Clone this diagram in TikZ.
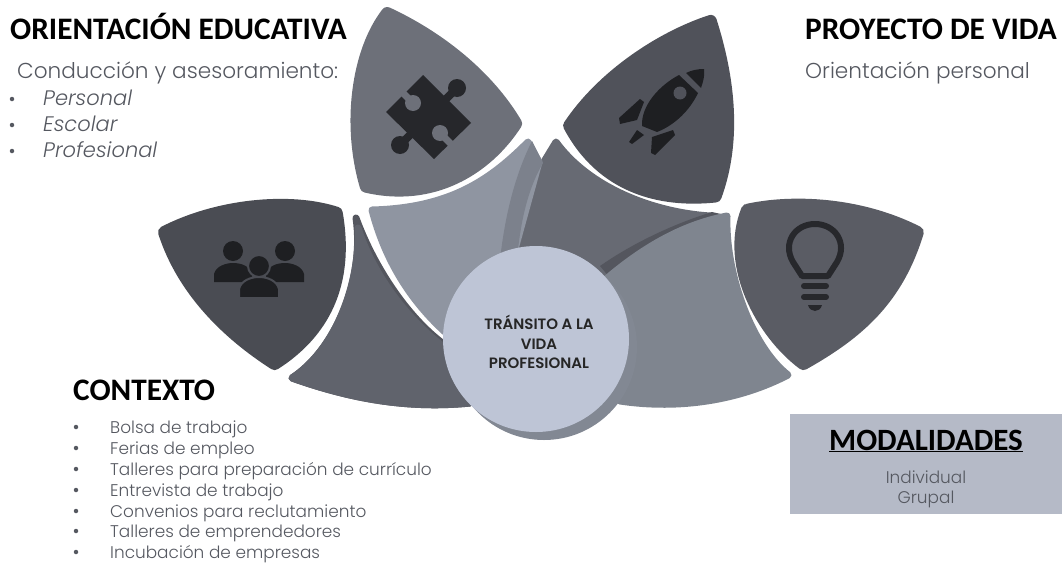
\documentclass[tikz,border=0pt]{standalone}
\usepackage{fontspec}
\setmainfont{Carlito}
\newfontfamily\gothicfont{Poppins Light}[ItalicFont={Poppins Light Italic},BoldFont={Poppins SemiBold}]
\usepackage{xcolor}
\definecolor{puzzlegray}{HTML}{6D7079}
\definecolor{rocketgray}{HTML}{50525A}
\definecolor{peoplegray}{HTML}{4A4C53}
\definecolor{bulbgray}{HTML}{5A5C64}
\definecolor{lowleft}{HTML}{60636C}
\definecolor{lowband}{HTML}{54565E}
\definecolor{lightpetal}{HTML}{8F95A1}
\definecolor{midband}{HTML}{7C818C}
\definecolor{midpetal}{HTML}{676A73}
\definecolor{lowright}{HTML}{7F858F}
\definecolor{hubblue}{HTML}{BEC5D6}
\definecolor{boxblue}{HTML}{B5BAC7}
\definecolor{icondark}{HTML}{1E1F22}
\definecolor{bodygray}{HTML}{555860}
\begin{document}
\begin{tikzpicture}[
    x=1pt, y=-1pt,
    petal/.style={draw=#1, fill=#1, line width=7pt, line join=round},
    bigpetal/.style={petal=#1, line width=12pt},
    title/.style={anchor=base west, inner sep=0pt, font=\fontsize{31.3}{31.3}\bfseries, text=black},
    lead/.style={anchor=base west, inner sep=0pt, font=\gothicfont\fontsize{21.6}{21.6}\selectfont, text=bodygray},
    topic/.style={anchor=base west, inner sep=0pt, font=\gothicfont\itshape\fontsize{21}{21}\selectfont, text=bodygray},
    entry/.style={anchor=base west, inner sep=0pt, font=\gothicfont\fontsize{16.9}{16.9}\selectfont, text=bodygray},
    dotmark/.style={circle, fill=bodygray, inner sep=0pt, minimum size=4.5pt},
    hub/.style={circle, inner sep=0pt, minimum size=186pt, fill=hubblue},
    hubtext/.style={anchor=base, inner sep=0pt, font=\gothicfont\bfseries\fontsize{15}{15}\selectfont, text=black!85},
    modetext/.style={anchor=base, inner sep=0pt, font=\gothicfont\fontsize{16.9}{16.9}\selectfont, text=bodygray},
]
    \useasboundingbox (0,0) rectangle (1062,562);

    % Outer petals
    \path[bigpetal=puzzlegray, scale around={0.97:(425,110)}] (386,10) .. controls (440,35) and (490,75) .. (519,124)
        .. controls (488,172) and (432,205) .. (364,189)
        .. controls (345,125) and (355,50) .. cycle;
    \path[bigpetal=rocketgray, scale around={0.97:(670,115)}] (566,126) .. controls (600,75) and (660,35) .. (712,18)
        .. controls (735,90) and (735,150) .. (717,199)
        .. controls (660,205) and (600,190) .. cycle;
    \path[bigpetal=peoplegray, scale around={0.97:(262,270)}] (161,231) .. controls (215,203) and (290,195) .. (339,211)
        .. controls (352,285) and (325,335) .. (275,367)
        .. controls (225,335) and (180,290) .. cycle;
    \path[bigpetal=bulbgray, scale around={0.97:(815,270)}] (745,208) .. controls (790,198) and (860,200) .. (921,231)
        .. controls (900,300) and (860,335) .. (803,367)
        .. controls (760,335) and (722,265) .. cycle;

    % Inner petals
    \path[petal=lowband] (356,218) .. controls (375,270) and (410,320) .. (445,345)
        -- (470,403) .. controls (400,410) and (340,395) .. (292,378)
        .. controls (335,350) and (365,280) .. cycle;
    \path[petal=lowleft] (358,228) .. controls (372,272) and (405,318) .. (445,348)
        -- (470,403) .. controls (400,410) and (340,395) .. (292,378)
        .. controls (335,350) and (360,285) .. cycle;
    \path[petal=midpetal] (556,142) .. controls (588,186) and (650,212) .. (710,216)
        -- (600,300) -- (520,260) .. controls (520,225) and (525,190) .. (542,165) -- cycle;
    \path[petal=lightpetal] (372,210) .. controls (450,208) and (490,180) .. (528,142)
        -- (539,162) -- (512,260) -- (445,332) .. controls (410,300) and (385,260) .. cycle;
    \fill[midband] (532,141) -- (543,163) .. controls (527,190) and (520,225) .. (517,260)
        -- (500,260) .. controls (505,215) and (515,175) .. cycle;
    \fill[lowband] (712,212) .. controls (670,225) and (630,245) .. (600,266) -- (620,290) -- (730,216) -- cycle;
    \path[petal=lowright] (727,216) .. controls (680,225) and (640,250) .. (605,280)
        -- (620,401) .. controls (680,410) and (740,400) .. (788,375)
        .. controls (750,345) and (725,270) .. cycle;

    % Puzzle icon
    \fill[icondark!90!puzzlegray] (423,75) -- (471,123) -- (434,159) -- (386,112) -- cycle;
    \fill[icondark!90!puzzlegray] (457,88) circle (9);
    \fill[icondark!90!puzzlegray] (400,145) circle (9);
    \draw[icondark!90!puzzlegray, line width=8pt] (457,88) -- (443,102);
    \draw[icondark!90!puzzlegray, line width=8pt] (400,145) -- (414,131);
    \fill[puzzlegray] (413,103) circle (8);
    \fill[puzzlegray] (440,133) circle (8);
    \draw[puzzlegray, line width=7pt] (413,103) -- (402,92);
    \draw[puzzlegray, line width=7pt] (440,133) -- (453,146);

    % Rocket icon
    \fill[icondark] (686,73) .. controls (692,70) and (698,69) .. (704,69)
        .. controls (705,76) and (703,82) .. (701,88) -- cycle;
    \fill[icondark] (679,75) -- (698,93) .. controls (690,110) and (675,125) .. (657,132)
        -- (642,126) .. controls (641,105) and (660,85) .. cycle;
    \fill[rocketgray] (680,93) circle (6.5);
    \fill[icondark] (640,99) -- (644,102) -- (637,120) -- (620,124) -- (619,118) -- cycle;
    \fill[icondark] (673,130) -- (675,135) -- (655,155) -- (651,153) -- (652,137) -- cycle;
    \fill[icondark] (637,130) -- (644,135) -- (632,144) -- (629,142) -- cycle;

    % People icon
    \fill[icondark] (233,251) circle (10);
    \fill[icondark] (285,251) circle (10);
    \fill[icondark] (214,282) -- (214,274) .. controls (216,266) and (226,263) .. (233,263)
        .. controls (241,263) and (250,266) .. (252,274) -- (252,282) -- cycle;
    \fill[icondark] (266,282) -- (266,274) .. controls (268,266) and (277,263) .. (285,263)
        .. controls (292,263) and (302,266) .. (304,274) -- (304,282) -- cycle;
    \filldraw[icondark, draw=peoplegray, line width=2pt] (259,266) circle (11);
    \filldraw[icondark, draw=peoplegray, line width=2pt] (239,298) -- (239,289)
        .. controls (241,281) and (250,277) .. (259,277)
        .. controls (268,277) and (277,281) .. (279,289) -- (279,298) -- cycle;

    % Bulb icon
    \draw[icondark!85!bulbgray, line width=6pt, line join=round] (802,276) -- (793,262)
        .. controls (782,243) and (795,224) .. (815,224)
        .. controls (835,224) and (848,243) .. (837,262) -- (828,276) -- cycle;
    \draw[icondark!85!bulbgray, line width=6pt, line cap=round] (804,286) -- (826,286);
    \draw[icondark!85!bulbgray, line width=6pt, line cap=round] (804,297) -- (826,297);
    \fill[icondark!85!bulbgray] (808,305) -- (822,305) .. controls (821,309) and (818,311) .. (815,311)
        .. controls (812,311) and (809,309) .. cycle;

    % Centre
    \node[hub, fill=lowright!95!hubblue] (hubshade) at (544,347) {};
    \node[hub] (hub) at (536,339) {};
    \node[hubtext] (hubA) at (539,329) {TRÁNSITO A LA};
    \node[hubtext] (hubB) at (539,349) {VIDA};
    \node[hubtext] (hubC) at (539,368) {PROFESIONAL};

    % Orientacion educativa
    \node[title] (orient) at (10,39) {ORIENTACIÓN EDUCATIVA};
    \node[lead] (orientlead) at (17,78) {Conducción y asesoramiento:};
    \foreach \y/\txt in {105/Personal, 131/Escolar, 157/Profesional} {
        \node[dotmark] (dot\y) at (12,\y-6) {};
        \node[topic] (topic\y) at (43,\y) {\txt};
    }

    % Proyecto de vida
    \node[title] (project) at (805,39) {PROYECTO DE VIDA};
    \node[lead] (projectlead) at (805,78) {Orientación personal};

    % Contexto
    \node[title] (context) at (73,400) {CONTEXTO};
    \foreach \y/\txt in {433/Bolsa de trabajo, 454/Ferias de empleo, 475/Talleres para preparación de currículo,
                         496/Entrevista de trabajo, 517/Convenios para reclutamiento, 537/Talleres de emprendedores,
                         558/Incubación de empresas} {
        \node[dotmark] (mark\y) at (76,\y-6) {};
        \node[entry] (entry\y) at (110,\y) {\txt};
    }

    % Modalidades
    \node[fill=boxblue, minimum width=272pt, minimum height=100pt, inner sep=0pt, anchor=north west] (modebox) at (790,414) {};
    \node[anchor=base, inner sep=0pt, font=\fontsize{31}{31}\bfseries] (modetitle) at (926,450) {\underline{MODALIDADES}};
    \node[modetext] (modeA) at (926,483) {Individual};
    \node[modetext] (modeB) at (926,503) {Grupal};
\end{tikzpicture}
\end{document}
